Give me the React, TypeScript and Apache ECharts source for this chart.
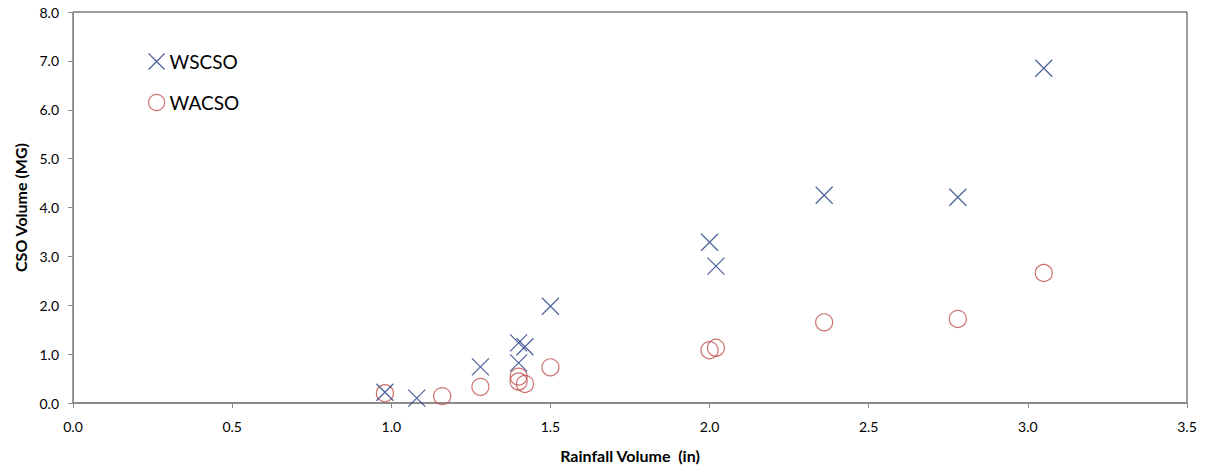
import React, { useEffect, useRef } from "react";
import * as echarts from "echarts";

const wscsoRain = [0.98, 1.08, 1.28, 1.40, 1.42, 1.40, 1.50, 2.00, 2.02, 2.36, 2.78, 3.05];
const wscsoVol = [0.22, 0.10, 0.74, 1.23, 1.15, 0.82, 1.98, 3.29, 2.80, 4.25, 4.21, 6.85];
const wacsoRain = [0.98, 1.16, 1.28, 1.40, 1.40, 1.42, 1.50, 2.00, 2.02, 2.36, 2.78, 3.05];
const wacsoVol = [0.20, 0.14, 0.33, 0.54, 0.44, 0.39, 0.73, 1.08, 1.13, 1.65, 1.72, 2.66];

const CROSS = "path://M0,0L10,10M10,0L0,10";
const FONT = "Lato, 'Open Sans', sans-serif";

export default function App() {
  const ref = useRef<HTMLDivElement>(null);
  useEffect(() => {
    if (!ref.current) return;
    const chart = echarts.init(ref.current, undefined, { renderer: "svg" });
    chart.setOption({
      animation: false,
      backgroundColor: "#ffffff",
      textStyle: { fontFamily: FONT },
      grid: {
        left: 73,
        right: 22,
        top: 12,
        bottom: 62,
        containLabel: false,
        outerBoundsMode: "none",
        show: true,
        borderColor: "#3a3a3a",
        borderWidth: 1,
      },
      legend: {
        orient: "vertical",
        left: 143,
        top: 47,
        itemGap: 22,
        itemWidth: 16,
        itemHeight: 16,
        textStyle: { fontSize: 19, lineHeight: 19, color: "#000", fontFamily: FONT },
        data: [
          { name: "WSCSO", icon: CROSS, itemStyle: { color: "transparent", borderColor: "#1f3a82", borderWidth: 1.2 } },
          { name: "WACSO", icon: "circle", itemStyle: { color: "transparent", borderColor: "#c0504d", borderWidth: 1.2 } },
        ],
      },
      xAxis: {
        type: "value",
        min: 0,
        max: 3.5,
        interval: 0.5,
        name: "Rainfall Volume  (in)",
        nameLocation: "middle",
        nameGap: 44,
        nameTextStyle: { fontWeight: "bold", fontSize: 16, color: "#000", fontFamily: FONT },
        axisLine: { show: true, lineStyle: { color: "#8c8c8c", width: 2 } },
        axisTick: { show: true, length: 5, lineStyle: { color: "#8c8c8c" } },
        axisLabel: { margin: 16, fontSize: 14, color: "#000", formatter: (v: number) => v.toFixed(1) },
        splitLine: { show: false },
      },
      yAxis: {
        type: "value",
        min: 0,
        max: 8,
        interval: 1,
        name: "CSO Volume (MG)",
        nameLocation: "middle",
        nameGap: 45,
        nameTextStyle: { fontWeight: "bold", fontSize: 16, color: "#000", fontFamily: FONT },
        axisLine: { show: true, lineStyle: { color: "#8c8c8c", width: 1 } },
        axisTick: { show: true, length: 5, lineStyle: { color: "#8c8c8c" } },
        axisLabel: { margin: 14, fontSize: 14, color: "#000", formatter: (v: number) => v.toFixed(1) },
        splitLine: { show: false },
      },
      series: [
        {
          name: "WSCSO",
          type: "scatter",
          symbol: CROSS,
          symbolSize: 17,
          itemStyle: { color: "transparent", borderColor: "#1f3a82", borderWidth: 1.2 },
          data: wscsoRain.map((x, i) => [x, wscsoVol[i]]),
          z: 3,
        },
        {
          name: "WACSO",
          type: "scatter",
          symbol: "circle",
          symbolSize: 17,
          itemStyle: { color: "transparent", borderColor: "#c0504d", borderWidth: 1.2 },
          data: wacsoRain.map((x, i) => [x, wacsoVol[i]]),
          z: 2,
        },
      ],
    });
    return () => chart.dispose();
  }, []);
  return (
    <div
      ref={ref}
      style={{ position: "absolute", left: 0, top: 0, width: 1209, height: 465 }}
    />
  );
}
